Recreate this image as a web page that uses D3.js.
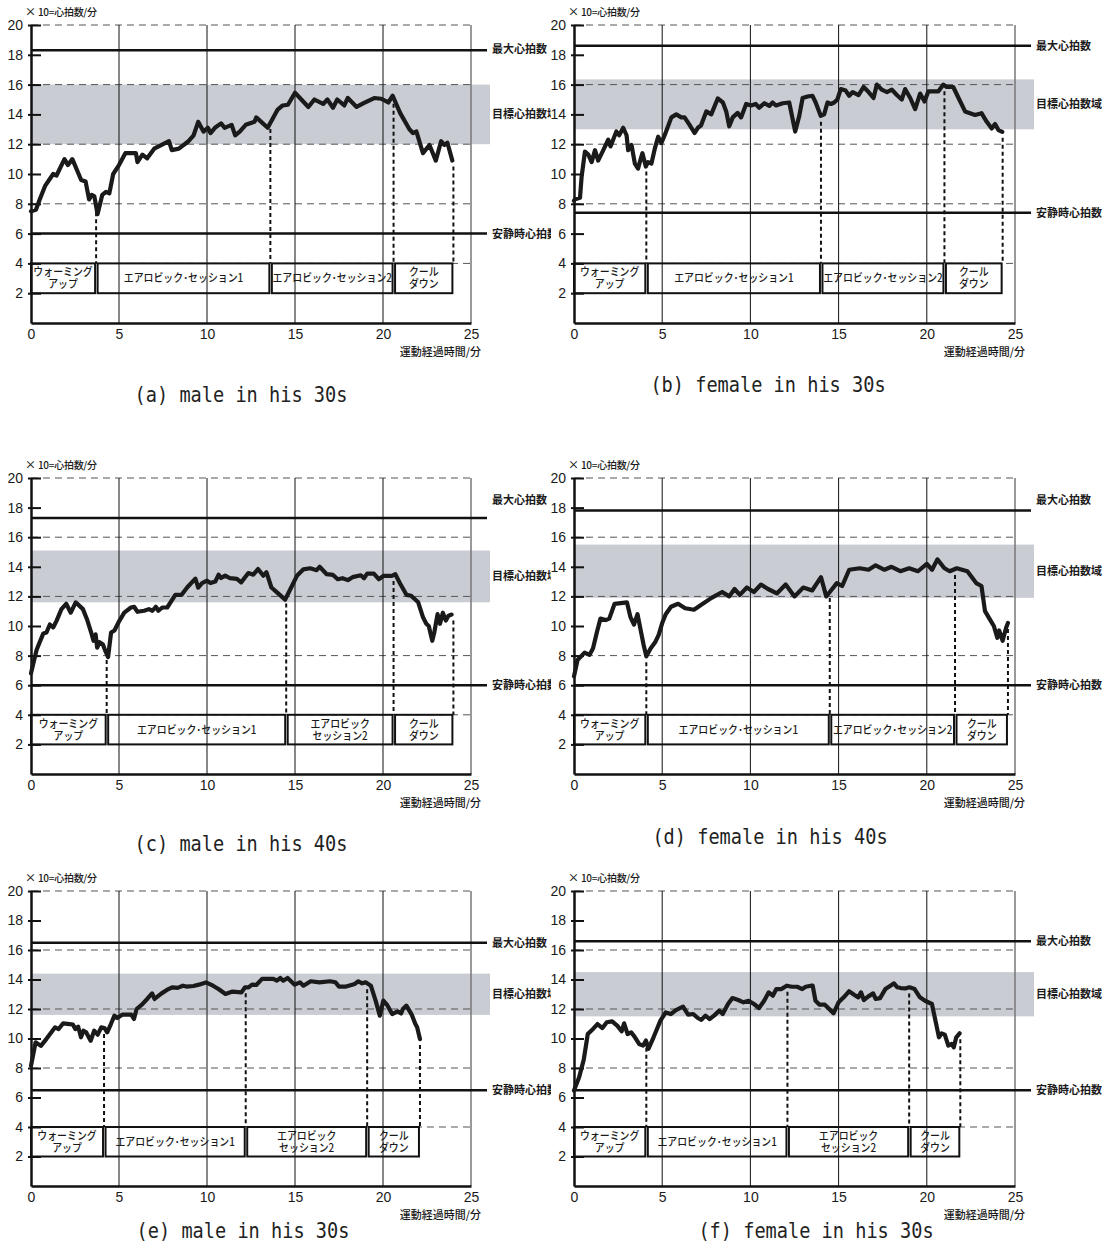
<!DOCTYPE html>
<html lang="ja">
<head>
<meta charset="UTF-8">
<title>運動中の心拍数の推移</title>
<script src="https://d3js.org/d3.v7.min.js"></script>
<style>
  body { margin: 0; background: #fff; }
  svg { display: block; }
</style>
</head>
<body>
<div id="chart"></div>
<script>
// ---- データ ----
const captions = ["(a) male in his 30s", "(b) female in his 30s", "(c) male in his 40s",
                  "(d) female in his 40s", "(e) male in his 30s", "(f) female in his 30s"];
const maxHR = [18.3, 18.6, 17.3, 17.8, 16.5, 16.6];          // 最大心拍数 (×10)
const maxLabelAt = [18.4, 18.6, 18.5, 18.5, 16.5, 16.6];
const restHR = [6.0, 7.4, 6.0, 6.0, 6.5, 6.5];               // 安静時心拍数
const targetLow = [12.0, 13.0, 11.6, 11.9, 11.6, 11.5];      // 目標心拍数域
const targetHigh = [16.0, 16.35, 15.1, 15.5, 14.4, 14.5];
const phaseEnds = [
  [3.7, 13.6, 20.6, 24.0],
  [4.1, 14.0, 21.0, 24.3],
  [4.3, 14.5, 20.6, 24.0],
  [4.1, 14.5, 21.6, 24.6],
  [4.15, 12.2, 19.1, 22.1],
  [4.1, 12.1, 19.0, 21.9]
];
const warmLabel = ["ウォーミング", "アップ"];
const aero1Label = ["エアロビック･セッション1"];
const aero2Label = [["エアロビック･セッション2"], ["エアロビック･セッション2"], ["エアロビック", "セッション2"],
                    ["エアロビック･セッション2"], ["エアロビック", "セッション2"], ["エアロビック", "セッション2"]];
const coolLabel = ["クール", "ダウン"];

const yTicks = [2, 4, 6, 8, 10, 12, 14, 16, 18, 20];
const xTicks = [0, 5, 10, 15, 20, 25];
const dashedAt = [4, 8, 12, 16, 20];
const gridAt = [5, 10, 15, 20];

// 心拍数 [分, ×10拍/分]
const hrA = [[0,7.5],[0.28,7.6],[0.5,8.3],[0.8,9.2],[1.26,10.0],[1.45,9.9],[1.9,11.0],[2.1,10.6],[2.35,11.0],[2.85,9.6],[3.1,9.5],[3.3,8.3],[3.45,8.6],[3.6,8.5],[3.78,7.3],[4.05,8.6],[4.26,8.8],[4.45,8.7],[4.67,10.0],[5.0,10.6],[5.36,11.4],[5.96,11.4],[6.05,10.8],[6.33,11.3],[6.6,11.05],[7.0,11.7],[7.84,12.2],[8.0,11.6],[8.4,11.7],[8.95,12.2],[9.24,12.6],[9.5,13.5],[9.8,12.85],[10.05,13.1],[10.2,12.75],[10.45,13.1],[10.8,13.4],[11.0,13.1],[11.4,13.3],[11.6,12.6],[11.86,12.85],[12.2,13.3],[12.7,13.5],[12.8,13.8],[13.45,13.1],[14.0,14.3],[14.3,14.6],[14.6,14.65],[15.0,15.45],[15.76,14.5],[16.1,15.0],[16.6,14.7],[16.84,15.0],[17.16,14.45],[17.4,15.0],[17.8,14.6],[18.0,15.1],[18.5,14.5],[18.9,14.75],[19.5,15.1],[19.9,15.05],[20.3,14.8],[20.55,15.25],[20.97,14.1],[21.5,13.0],[21.7,12.75],[21.9,12.85],[22.27,11.4],[22.64,11.95],[23.0,10.9],[23.3,12.2],[23.48,11.95],[23.66,12.1],[23.94,10.9]];
const hrB = [[0,8.2],[0.06,8.3],[0.34,8.4],[0.43,9.8],[0.62,11.5],[0.81,11.3],[1.0,10.8],[1.19,11.6],[1.37,10.9],[1.66,11.6],[1.94,12.3],[2.07,11.85],[2.4,12.85],[2.56,12.6],[2.79,13.1],[2.98,12.6],[3.07,11.6],[3.26,11.95],[3.45,10.7],[3.63,10.36],[3.73,10.8],[3.88,11.4],[4.07,10.5],[4.2,10.8],[4.39,10.7],[4.58,11.7],[4.77,12.5],[4.95,12.07],[5.14,12.6],[5.52,13.8],[5.8,14.0],[6.08,13.8],[6.27,13.8],[6.55,13.3],[6.84,12.75],[7.02,13.1],[7.2,13.25],[7.5,14.2],[7.78,14.0],[8.15,15.07],[8.44,14.8],[8.63,14.2],[8.8,13.2],[9.0,13.8],[9.28,14.1],[9.47,13.8],[9.76,14.7],[10.04,14.6],[10.3,14.7],[10.5,14.45],[10.8,14.75],[11.07,14.57],[11.26,14.8],[11.45,14.6],[11.83,14.75],[12.2,14.8],[12.54,12.85],[12.77,13.9],[12.96,15.1],[13.24,15.2],[13.52,15.25],[13.7,14.8],[13.99,13.9],[14.18,14.0],[14.37,14.8],[14.56,14.7],[14.75,14.8],[14.93,15.0],[15.12,15.7],[15.4,15.6],[15.6,15.25],[15.8,15.5],[16.13,15.3],[16.42,15.84],[16.7,15.5],[16.98,15.1],[17.17,16.0],[17.45,15.66],[17.74,15.5],[18.02,15.66],[18.3,15.3],[18.58,15.0],[18.77,15.7],[19.06,15.1],[19.34,14.35],[19.62,15.4],[19.87,14.87],[20.09,15.55],[20.66,15.55],[20.94,16.0],[21.13,15.84],[21.5,15.84],[21.8,15.1],[22.17,14.2],[22.45,14.08],[22.74,13.96],[23.1,14.08],[23.4,13.5],[23.68,13.06],[23.87,13.35],[24.06,12.95],[24.28,12.83]];
const hrC = [[0,6.8],[0.26,8.1],[0.32,8.4],[0.7,9.5],[0.88,9.56],[1.07,10.1],[1.26,9.9],[1.45,10.35],[1.73,11.14],[2.0,11.5],[2.26,10.9],[2.54,11.6],[2.95,11.14],[3.18,10.46],[3.42,9.56],[3.55,9.0],[3.67,9.44],[3.76,8.54],[3.9,8.9],[4.08,8.77],[4.23,8.3],[4.38,7.9],[4.55,9.56],[4.74,9.7],[5.02,10.35],[5.3,10.9],[5.68,11.25],[5.86,11.3],[6.05,10.96],[6.43,11.03],[6.7,11.14],[6.9,11.03],[7.09,11.3],[7.24,11.03],[7.46,11.25],[7.74,11.25],[8.2,12.1],[8.55,12.1],[8.87,12.6],[9.34,13.2],[9.5,12.6],[9.72,12.9],[10.0,13.06],[10.2,12.9],[10.47,13.0],[10.66,13.47],[10.8,13.24],[11.03,13.4],[11.3,13.24],[11.7,13.18],[11.94,12.95],[12.35,13.58],[12.63,13.47],[12.9,13.85],[13.2,13.4],[13.38,13.63],[13.66,12.6],[14.04,12.2],[14.44,11.78],[14.74,12.5],[15.11,13.39],[15.48,13.83],[15.86,13.9],[16.23,13.77],[16.4,14.0],[16.8,13.5],[17.16,13.45],[17.43,13.16],[17.7,13.23],[18.0,13.1],[18.27,13.3],[18.74,13.43],[18.92,13.23],[19.1,13.54],[19.48,13.54],[19.76,13.16],[20.04,13.39],[20.5,13.39],[20.7,13.5],[20.97,12.87],[21.34,12.1],[21.6,12.04],[22.0,11.6],[22.27,10.6],[22.46,10.15],[22.6,10.0],[22.8,9.0],[22.92,9.6],[23.1,10.8],[23.24,10.15],[23.4,10.9],[23.57,10.37],[23.72,10.7],[23.9,10.77]];
const hrD = [[0,6.6],[0.2,7.7],[0.6,8.2],[0.88,8.05],[1.08,8.5],[1.3,9.6],[1.5,10.5],[1.8,10.4],[2.0,10.5],[2.3,11.5],[3.0,11.6],[3.2,10.6],[3.4,10.1],[3.6,10.8],[3.85,9.3],[3.95,8.7],[4.1,7.95],[4.35,8.5],[4.6,8.9],[4.8,9.4],[5.0,10.2],[5.2,10.8],[5.5,11.3],[5.9,11.5],[6.3,11.2],[6.8,11.1],[7.3,11.5],[7.8,11.9],[8.4,12.3],[8.8,12.0],[9.1,12.5],[9.4,12.1],[9.8,12.6],[10.2,12.3],[10.6,12.8],[11.0,12.5],[11.5,12.2],[12.0,12.8],[12.5,12.0],[13.0,12.6],[13.5,12.4],[14.0,13.3],[14.3,12.0],[14.5,12.3],[14.9,12.9],[15.2,12.7],[15.6,13.8],[16.2,13.9],[16.7,13.8],[17.1,14.1],[17.6,13.8],[18.0,14.0],[18.5,13.7],[19.0,13.9],[19.5,13.7],[20.0,14.2],[20.3,13.8],[20.6,14.5],[21.0,13.9],[21.3,13.7],[21.7,13.9],[22.3,13.7],[22.8,12.9],[23.1,12.7],[23.3,11.0],[23.6,10.4],[23.8,10.0],[24.0,9.2],[24.1,9.7],[24.3,9.0],[24.5,9.9],[24.6,10.2]];
const hrE = [[0,8.15],[0.26,9.74],[0.56,9.5],[0.87,9.96],[1.37,10.76],[1.57,10.64],[1.83,11.03],[2.18,10.98],[2.38,10.94],[2.52,10.64],[2.68,10.8],[2.84,10.08],[2.98,10.53],[3.13,10.42],[3.39,9.85],[3.59,10.53],[3.79,10.26],[3.99,10.76],[4.19,10.69],[4.33,10.42],[4.54,10.98],[4.74,11.55],[4.9,11.39],[5.2,11.62],[5.7,11.62],[5.85,11.32],[6.0,12.0],[6.3,12.3],[6.6,12.68],[6.88,13.06],[7.02,12.68],[7.42,13.06],[7.72,13.29],[8.02,13.47],[8.33,13.43],[8.63,13.58],[8.83,13.52],[9.23,13.56],[9.54,13.65],[9.94,13.8],[10.34,13.58],[10.65,13.36],[11.05,13.02],[11.45,13.18],[11.96,13.13],[12.16,13.47],[12.36,13.47],[12.56,13.65],[12.8,13.63],[13.13,14.04],[13.77,14.04],[13.97,13.92],[14.17,14.1],[14.33,13.92],[14.58,14.1],[14.98,13.65],[15.28,13.81],[15.48,13.58],[15.89,13.88],[16.39,13.81],[16.99,13.88],[17.3,13.81],[17.5,13.52],[17.9,13.52],[18.4,13.7],[18.6,13.88],[18.81,13.74],[19.01,13.81],[19.31,13.58],[19.58,12.57],[19.82,11.55],[20.02,12.57],[20.22,12.3],[20.52,11.66],[20.83,11.84],[21.03,11.7],[21.13,12.0],[21.33,12.23],[21.63,11.62],[21.84,10.98],[21.94,10.76],[22.1,9.96]];
const hrF = [[0,6.47],[0.29,7.37],[0.55,8.55],[0.78,10.3],[1.08,10.65],[1.33,10.98],[1.61,10.71],[1.86,11.1],[2.16,11.16],[2.45,10.87],[2.7,10.49],[2.84,11.03],[3.04,10.3],[3.24,10.42],[3.43,10.13],[3.69,9.63],[3.92,9.52],[4.08,9.86],[4.22,9.3],[4.51,10.08],[4.9,11.21],[5.2,11.77],[5.49,11.66],[5.78,11.93],[6.18,12.16],[6.47,11.62],[6.76,11.66],[7.02,11.39],[7.22,11.26],[7.45,11.55],[7.69,11.32],[7.94,11.55],[8.24,11.89],[8.43,11.66],[8.73,12.34],[8.98,12.74],[9.31,12.61],[9.61,12.45],[9.9,12.56],[10.2,12.34],[10.49,12.07],[10.78,12.56],[11.04,13.13],[11.27,12.9],[11.47,13.35],[11.76,13.35],[12.06,13.58],[12.35,13.51],[12.65,13.51],[12.94,13.35],[13.14,13.51],[13.43,13.58],[13.53,13.58],[13.69,12.56],[13.92,12.29],[14.22,12.29],[14.47,12.0],[14.71,11.71],[15.0,12.45],[15.29,12.79],[15.59,13.2],[15.88,12.97],[16.12,12.79],[16.27,13.13],[16.43,12.61],[16.67,12.84],[16.96,13.06],[17.1,12.68],[17.35,12.74],[17.65,13.35],[17.94,13.58],[18.14,13.74],[18.33,13.47],[18.53,13.42],[18.82,13.4],[19.02,13.47],[19.31,13.35],[19.61,12.79],[19.9,12.56],[20.29,12.34],[20.49,11.21],[20.69,10.08],[20.84,10.35],[21.02,10.26],[21.22,9.52],[21.41,9.63],[21.53,9.4],[21.67,10.08],[21.86,10.35]];
const series = [hrA, hrB, hrC, hrD, hrE, hrF];

// ---- レイアウト ----
const W = 1105, H = 1244;
const colLeft = [31, 574], colRight = [471, 1015];
const rowTop = [25, 478, 891], rowBottom = [323, 774, 1186];
const captionX = [241, 768, 241, 770, 243, 816];
const captionY = [402, 392, 851, 844, 1238, 1238];

const numFont = "'Liberation Sans Narrow', 'Liberation Sans', Arial, sans-serif";
const jpFont = "'Noto Sans CJK JP', sans-serif";

const svg = d3.select("#chart").append("svg")
  .attr("width", W).attr("height", H);

svg.append("defs").append("clipPath").attr("id", "leftclip")
  .append("rect").attr("x", 0).attr("y", 0).attr("width", 551).attr("height", H);

// 細めの和文 (横方向に詰める)
function narrow(sel, ratio) {
  sel.each(function () {
    const w = this.getComputedTextLength();
    d3.select(this).attr("textLength", w * ratio).attr("lengthAdjust", "spacingAndGlyphs");
  });
}

series.forEach((data, i) => {
  const col = i % 2, row = Math.floor(i / 2);
  const x = d3.scaleLinear().domain([0, 25]).range([colLeft[col], colRight[col]]);
  const y = d3.scaleLinear().domain([0, 20]).range([rowBottom[row], rowTop[row]]);
  const g = svg.append("g");
  if (col === 0) g.attr("clip-path", "url(#leftclip)");

  // 目標心拍数域
  g.append("rect")
    .attr("x", x(0)).attr("y", y(targetHigh[i]))
    .attr("width", x(25) + 19 - x(0)).attr("height", y(targetLow[i]) - y(targetHigh[i]))
    .attr("fill", "#c9ccd3");

  // 破線グリッド
  g.selectAll(".dash").data(dashedAt).enter().append("line")
    .attr("x1", x(0)).attr("x2", x(25))
    .attr("y1", d => y(d)).attr("y2", d => y(d))
    .attr("stroke", "#555").attr("stroke-width", 1).attr("stroke-dasharray", "7,5");

  // 縦線
  g.selectAll(".vgrid").data(gridAt).enter().append("line")
    .attr("x1", d => x(d)).attr("x2", d => x(d))
    .attr("y1", y(20)).attr("y2", y(0))
    .attr("stroke", "#111").attr("stroke-width", 1);
  g.append("line")
    .attr("x1", x(25)).attr("x2", x(25)).attr("y1", y(20)).attr("y2", y(0))
    .attr("stroke", "#777").attr("stroke-width", 1.5);

  // 最大心拍数・安静時心拍数
  [maxHR[i], restHR[i]].forEach(v => {
    g.append("line")
      .attr("x1", x(0)).attr("x2", x(25) + 16)
      .attr("y1", y(v)).attr("y2", y(v))
      .attr("stroke", "#111").attr("stroke-width", 2.5);
  });

  // 右側ラベル
  const lx = x(25) + 21;
  [["最大心拍数", maxLabelAt[i]], ["目標心拍数域", (targetLow[i] + targetHigh[i]) / 2], ["安静時心拍数", restHR[i]]]
    .forEach(([t, v]) => {
      g.append("text").attr("x", lx).attr("y", y(v)).attr("dy", "0.36em")
        .attr("font-family", jpFont).attr("font-size", 11).attr("font-weight", 600)
        .attr("fill", "#1a1a1a").text(t);
    });

  // 軸
  const yAxis = g.append("g").attr("transform", `translate(${x(0)},0)`)
    .call(d3.axisLeft(y).tickValues(yTicks).tickSizeOuter(0).tickSizeInner(3).tickPadding(5));
  yAxis.selectAll(".tick line").attr("x1", -3).attr("x2", 10).attr("stroke", "#111").attr("stroke-width", 2);
  yAxis.select(".domain").attr("stroke", "#111").attr("stroke-width", 2.5);
  yAxis.selectAll("text").attr("font-family", numFont).attr("font-size", 14).attr("fill", "#1a1a1a");

  const xAxis = g.append("g").attr("transform", `translate(0,${y(0)})`)
    .call(d3.axisBottom(x).tickValues(xTicks).tickSize(0).tickPadding(6));
  xAxis.select(".domain").attr("stroke", "#111").attr("stroke-width", 2.5);
  xAxis.selectAll("text").attr("font-family", numFont).attr("font-size", 14).attr("fill", "#1a1a1a");

  // 単位
  const ul = g.append("text").attr("x", x(0) - 6).attr("y", y(20) - 9)
    .attr("font-family", jpFont).attr("font-size", 11).attr("font-weight", 500).attr("fill", "#1a1a1a")
    .attr("textLength", 72).attr("lengthAdjust", "spacing");
  ul.append("tspan").text("× ");
  ul.append("tspan").attr("font-size", 10).text("10=心拍数/分");
  g.append("text").attr("x", x(25) + 10).attr("y", y(0) + 33)
    .attr("text-anchor", "end").attr("font-family", jpFont).attr("font-size", 11).attr("font-weight", 500)
    .attr("fill", "#1a1a1a").text("運動経過時間/分");

  // フェーズの枠
  const ends = phaseEnds[i];
  const starts = [0].concat(ends.slice(0, 3));
  const labels = [warmLabel, aero1Label, aero2Label[i], coolLabel];
  starts.forEach((s, k) => {
    const e = ends[k];
    const x1 = k === 0 ? x(s) : x(s) + 1.5, x2 = x(e) - 1;
    g.append("rect").attr("x", x1).attr("y", y(4)).attr("width", x2 - x1).attr("height", y(2) - y(4))
      .attr("fill", "none").attr("stroke", "#111").attr("stroke-width", 2);
    const lines = labels[k];
    const cx = (x1 + x2) / 2, cy = (y(4) + y(2)) / 2;
    lines.forEach((t, j) => {
      g.append("text").attr("x", cx).attr("y", cy + (j - (lines.length - 1) / 2) * 12)
        .attr("dy", "0.36em").attr("text-anchor", "middle")
        .attr("font-family", jpFont).attr("font-size", 11).attr("font-weight", 500)
        .attr("fill", "#1a1a1a").text(t)
        .call(narrow, 0.9);
    });
  });

  // 区切りの点線
  const interp = t => {
    const b = d3.bisector(d => d[0]).left(data, t);
    if (b <= 0) return data[0][1];
    if (b >= data.length) return data[data.length - 1][1];
    const p = data[b - 1], q = data[b];
    return p[1] + (q[1] - p[1]) * (t - p[0]) / (q[0] - p[0]);
  };
  g.selectAll(".div").data(ends).enter().append("line")
    .attr("x1", d => x(d)).attr("x2", d => x(d))
    .attr("y1", d => y(interp(d)) + 6).attr("y2", y(4))
    .attr("stroke", "#111").attr("stroke-width", 2).attr("stroke-dasharray", "4,3");

  // 心拍数の線
  g.append("path").datum(data)
    .attr("d", d3.line().x(d => x(d[0])).y(d => y(d[1])))
    .attr("fill", "none").attr("stroke", "#1a1a1a").attr("stroke-width", 4.2)
    .attr("stroke-linejoin", "round").attr("stroke-linecap", "round");

  // キャプション
  svg.append("text").attr("x", captionX[i]).attr("y", captionY[i])
    .attr("text-anchor", "middle").attr("font-family", "'DejaVu Sans Mono', monospace")
    .attr("font-size", 22).attr("fill", "#222")
    .attr("textLength", captions[i].length * 11.2).attr("lengthAdjust", "spacingAndGlyphs")
    .text(captions[i]);
});
</script>
</body>
</html>
